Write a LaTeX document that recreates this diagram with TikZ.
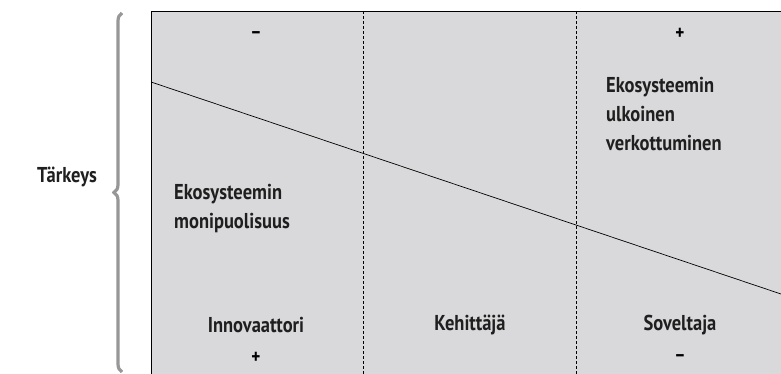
\documentclass[tikz,border=0pt]{standalone}
\usepackage{fontspec}
\setmainfont{PT Sans}
\newfontfamily\labelfont[FakeStretch=0.86]{PT Sans}
\usetikzlibrary{decorations.pathreplacing}
\definecolor{panel}{HTML}{D9D9DB}
\definecolor{bracegray}{HTML}{979797}
\begin{document}
\begin{tikzpicture}[x=1pt,y=-1pt,
  lbl/.style={font=\labelfont\bfseries\fontsize{21.5}{29}\selectfont, text=black!88, inner sep=0pt},
  sign/.style={font=\labelfont\bfseries\fontsize{20}{20}\selectfont, inner sep=0pt},
  divider/.style={densely dashed, line width=0.6pt}]
\useasboundingbox (0,0) rectangle (781,374);
\begin{scope}
  \clip (0,0) rectangle (781,374);
  % grey panel
  \draw[fill=panel, line width=0.8pt] (151,11) rectangle (800,400);
  % column dividers
  \draw[divider] (363,11) -- (363,400);
  \draw[divider] (576,11) -- (576,400);
  % trend line
  \coordinate (ls) at (151,82);
  \coordinate (le) at (781,294);
  \draw[line width=0.7pt] (ls) -- (le);
\end{scope}
% brace
\draw[bracegray, line width=3.2pt, decorate, decoration={brace, amplitude=8pt, mirror}]
  (122,13) -- (122,372);
\node[lbl] (imp) at (67,177) {Tärkeys};
% signs
\node[sign] (s1) at (256,35) {–};
\node[sign] (s2) at (680,34) {+};
\node[sign] (s3) at (256,358) {+};
\node[sign] (s4) at (680,358) {–};
% labels
\node[lbl, anchor=north west, align=left] (ext) at (606,77) {Ekosysteemin\\ulkoinen\\verkottuminen};
\node[lbl, anchor=north west, align=left] (div) at (174,184) {Ekosysteemin\\monipuolisuus};
\node[lbl] (c1) at (256,325) {Innovaattori};
\node[lbl] (c2) at (470,325) {Kehittäjä};
\node[lbl] (c3) at (680,325) {Soveltaja};
\end{tikzpicture}
\end{document}
